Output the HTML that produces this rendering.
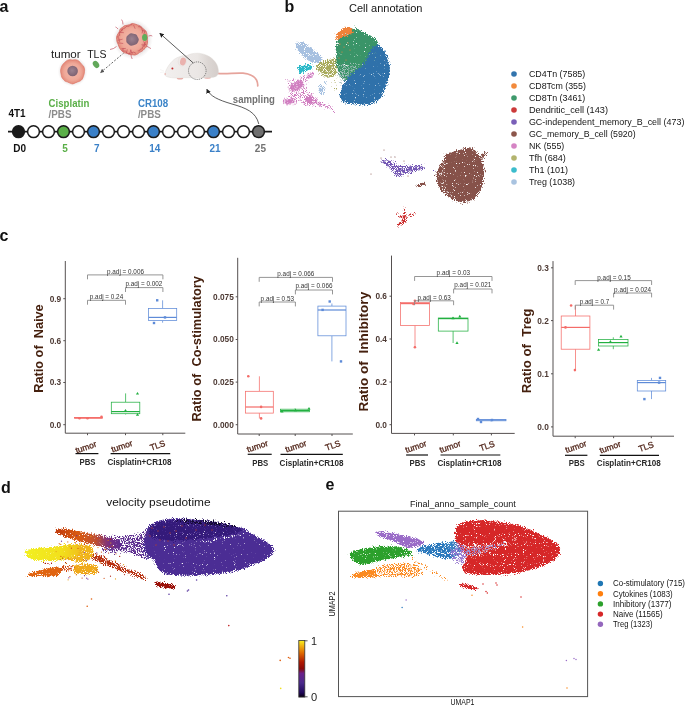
<!DOCTYPE html><html><head><meta charset="utf-8"><style>html,body{margin:0;padding:0;background:#fff;width:685px;height:705px;overflow:hidden}svg{display:block;will-change:transform}text{font-family:"Liberation Sans",sans-serif}</style></head><body>
<svg width="685" height="705" viewBox="0 0 685 705">
<defs>
<filter id="sp" x="-30%" y="-30%" width="160%" height="160%" color-interpolation-filters="sRGB">
 <feGaussianBlur in="SourceGraphic" stdDeviation="1.6" result="b"/>
 <feComponentTransfer in="b" result="bc"><feFuncA type="linear" slope="40" intercept="0"/></feComponentTransfer>
 <feTurbulence type="fractalNoise" baseFrequency="1.1" numOctaves="1" seed="4" result="t"/>
 <feColorMatrix in="t" type="matrix" values="0 0 0 0 0  0 0 0 0 0  0 0 0 0 0  1 0 0 0 0" result="n"/>
 <feGaussianBlur in="SourceAlpha" stdDeviation="1.6" result="ba"/>
 <feComposite in="ba" in2="n" operator="arithmetic" k1="0" k2="1" k3="1.8" k4="-1.4" result="m"/>
 <feComponentTransfer in="m" result="m2"><feFuncA type="linear" slope="6" intercept="0"/></feComponentTransfer>
 <feComposite in="bc" in2="m2" operator="in"/>
</filter>
<filter id="sp2" x="-30%" y="-30%" width="160%" height="160%" color-interpolation-filters="sRGB">
 <feGaussianBlur in="SourceGraphic" stdDeviation="0.8" result="b"/>
 <feComponentTransfer in="b" result="bc"><feFuncA type="linear" slope="40" intercept="0"/></feComponentTransfer>
 <feTurbulence type="fractalNoise" baseFrequency="1.1" numOctaves="1" seed="9" result="t"/>
 <feColorMatrix in="t" type="matrix" values="0 0 0 0 0  0 0 0 0 0  0 0 0 0 0  1 0 0 0 0" result="n"/>
 <feGaussianBlur in="SourceAlpha" stdDeviation="0.8" result="ba"/>
 <feComposite in="ba" in2="n" operator="arithmetic" k1="0" k2="1" k3="1.8" k4="-1.4" result="m"/>
 <feComponentTransfer in="m" result="m2"><feFuncA type="linear" slope="6" intercept="0"/></feComponentTransfer>
 <feComposite in="bc" in2="m2" operator="in"/>
</filter>
<filter id="soft" x="-30%" y="-30%" width="160%" height="160%"><feGaussianBlur stdDeviation="0.8"/></filter>
<radialGradient id="tum" cx="50%" cy="50%" r="50%"><stop offset="0" stop-color="#f4bcae"/><stop offset="0.7" stop-color="#efa898"/><stop offset="1" stop-color="#e48a7a"/></radialGradient>
<radialGradient id="nuc" cx="45%" cy="45%" r="55%"><stop offset="0" stop-color="#9c8290"/><stop offset="1" stop-color="#7e6272"/></radialGradient>
<radialGradient id="halo" cx="50%" cy="50%" r="50%"><stop offset="0.7" stop-color="#d8d0d0" stop-opacity="0.8"/><stop offset="1" stop-color="#e8e4e4" stop-opacity="0"/></radialGradient>
<linearGradient id="cbar" x1="0" y1="1" x2="0" y2="0">
 <stop offset="0" stop-color="#0a0010"/><stop offset="0.08" stop-color="#20085a"/><stop offset="0.25" stop-color="#4a2a8c"/>
 <stop offset="0.42" stop-color="#6a208a"/><stop offset="0.5" stop-color="#8a0808"/><stop offset="0.62" stop-color="#b01800"/>
 <stop offset="0.78" stop-color="#e06a00"/><stop offset="0.9" stop-color="#f0b010"/><stop offset="1" stop-color="#f8f020"/>
</linearGradient>
<marker id="ah" viewBox="0 0 10 10" refX="8" refY="5" markerWidth="6" markerHeight="6" orient="auto-start-reverse"><path d="M0,0 L10,5 L0,10 z" fill="#222"/></marker>
<marker id="ah2" viewBox="0 0 10 10" refX="8" refY="5" markerWidth="4.5" markerHeight="4.5" orient="auto-start-reverse"><path d="M0,0 L10,5 L0,10 z" fill="#555"/></marker>
</defs>
<text x="-0.60" y="12.00" font-size="16" fill="#111" font-weight="bold">a</text>
<circle cx="72.6" cy="71.5" r="15" fill="url(#halo)"/>
<path d="M84.5,71.5 C84.4,72.4 84.3,73.3 84.1,74.1 C83.9,75.0 83.6,75.8 83.3,76.7 C83.0,77.5 82.7,78.4 82.2,79.2 C81.7,79.9 80.9,80.5 80.1,81.0 C79.4,81.4 78.4,81.6 77.6,81.9 C76.8,82.2 76.0,82.6 75.2,82.9 C74.4,83.2 73.5,83.9 72.6,83.9 C71.7,83.9 70.8,83.4 70.0,83.1 C69.1,82.8 68.4,82.3 67.6,82.0 C66.7,81.6 65.7,81.5 65.0,81.1 C64.2,80.6 63.6,79.8 63.1,79.1 C62.5,78.4 61.9,77.6 61.6,76.8 C61.3,76.0 61.3,75.0 61.1,74.1 C61.0,73.2 60.6,72.4 60.6,71.5 C60.5,70.6 60.7,69.7 60.9,68.8 C61.1,67.9 61.3,67.0 61.7,66.2 C62.1,65.4 62.7,64.7 63.2,64.0 C63.8,63.3 64.5,62.7 65.1,62.1 C65.8,61.5 66.4,60.8 67.2,60.4 C68.0,60.0 69.0,59.7 69.9,59.7 C70.8,59.6 71.7,60.0 72.6,60.0 C73.5,60.0 74.4,59.6 75.3,59.7 C76.2,59.8 77.1,60.0 77.9,60.4 C78.7,60.9 79.4,61.5 80.0,62.2 C80.6,62.8 81.0,63.6 81.6,64.3 C82.2,65.0 83.1,65.5 83.6,66.2 C84.0,67.0 84.3,67.9 84.5,68.8 C84.7,69.7 84.6,70.6 84.5,71.5Z" fill="url(#tum)" stroke="#e07868" stroke-width="0.7"/>
<circle cx="72.6" cy="71.0" r="5.3" fill="url(#nuc)"/>
<ellipse cx="96.0" cy="64.4" rx="2.8" ry="3.9" transform="rotate(-35 96 64.4)" fill="#62a85a"/>
<text x="51.00" y="57.60" font-size="11" fill="#222" textLength="29.70" lengthAdjust="spacingAndGlyphs">tumor</text>
<text x="87.20" y="57.60" font-size="11" fill="#222" textLength="19.30" lengthAdjust="spacingAndGlyphs">TLS</text>
<line x1="124" y1="52.8" x2="100.8" y2="72.4" stroke="#555" stroke-width="0.9" stroke-dasharray="2,1.6" marker-end="url(#ah2)"/>
<circle cx="132.8" cy="39.4" r="20" fill="url(#halo)"/>
<path d="M147.4,39.3 C147.4,40.2 147.6,41.1 147.5,42.0 C147.5,42.9 147.4,43.9 147.1,44.7 C146.9,45.6 146.5,46.5 146.0,47.3 C145.5,48.0 144.7,48.6 144.0,49.2 C143.4,49.9 142.8,50.6 142.1,51.1 C141.4,51.6 140.5,51.8 139.7,52.3 C138.9,52.8 138.3,53.5 137.5,54.0 C136.8,54.4 135.9,54.9 135.0,55.0 C134.1,55.1 133.1,54.8 132.2,54.7 C131.3,54.6 130.4,54.7 129.5,54.5 C128.7,54.2 127.9,53.7 127.1,53.4 C126.2,53.1 125.2,53.2 124.4,52.8 C123.6,52.4 122.9,51.8 122.2,51.2 C121.6,50.6 120.9,49.9 120.4,49.2 C119.9,48.5 119.4,47.7 119.1,46.9 C118.7,46.1 118.5,45.2 118.2,44.4 C117.9,43.6 117.3,42.8 117.1,42.0 C116.8,41.1 116.7,40.2 116.7,39.3 C116.6,38.4 116.5,37.4 116.7,36.6 C116.9,35.7 117.4,34.9 117.8,34.1 C118.2,33.3 118.9,32.6 119.3,31.8 C119.6,31.0 119.6,29.9 120.1,29.2 C120.6,28.5 121.6,28.0 122.3,27.5 C123.0,26.9 123.6,26.2 124.4,25.8 C125.2,25.5 126.2,25.5 127.1,25.3 C128.0,25.1 128.8,25.0 129.6,24.7 C130.5,24.4 131.3,23.7 132.2,23.5 C133.1,23.4 134.0,23.8 134.9,24.0 C135.8,24.3 136.6,24.6 137.4,24.9 C138.3,25.2 139.2,25.4 140.0,25.9 C140.7,26.3 141.4,26.9 142.1,27.5 C142.8,28.1 143.2,28.8 143.9,29.5 C144.6,30.1 145.6,30.5 146.1,31.3 C146.6,32.0 146.6,33.1 146.9,34.0 C147.1,34.9 147.2,35.7 147.3,36.6 C147.4,37.5 147.4,38.4 147.4,39.3Z" fill="url(#tum)" stroke="#d46a62" stroke-width="0.8"/>
<path d="M146.3,41.6 L144.5,42.9 L145.1,44.8 L143.9,46.1 L142.4,46.9 L142.3,48.9 L140.3,49.1 L139.6,50.9 L137.7,50.8 M136.1,53.5 L133.9,52.1 L132.2,52.5 L130.3,53.4 L128.2,53.8 L126.7,52.3 L125.3,51.0 L122.8,51.2 L123.1,48.2 M119.5,41.9 L119.3,40.2 L118.8,38.6 L117.7,36.6 L119.7,35.3 L119.4,33.3 L120.1,31.7 L121.7,30.7 L122.6,29.1 M121.8,31.2 L121.9,29.2 L123.6,28.6 L125.0,28.0 L126.1,26.6 L127.7,26.3 L129.3,26.2 L130.7,24.7 L132.4,24.9 M138.1,26.6 L140.3,26.8 L141.7,28.4 L142.3,30.6 L145.0,31.1 L143.9,33.9 L145.3,35.4 L146.6,37.2 L145.2,39.2 M117.7,40.3 L122.6,39.2 M133.5,24.9 L135.2,28.8 M126.5,52.7 L127.3,49.4 M119.5,32.3 L123.9,32.7 M145.8,34.4 L142.5,36.5 M145.7,44.7 L142.3,44.2 M146.7,38.7 L143.6,37.6 M121.3,48.8 L125.8,48.4 M118.1,42.8 L123.2,43.5 M145.7,44.5 L143.4,41.4 M132.4,53.8 L130.4,49.6 M144.9,46.3 L141.4,44.7 M143.0,29.6 L142.0,33.3 M129.6,53.6 L131.1,49.8 " stroke="#b8384a" stroke-width="0.55" fill="none" stroke-linejoin="round" stroke-opacity="0.9"/>
<path d="M123,24.5 L122.6,21.5 L121.6,19.6" stroke="#b8384a" stroke-width="0.6" fill="none"/>
<path d="M110,49.5 L113.5,48.5 L116.5,46.5" stroke="#b8384a" stroke-width="0.6" fill="none"/>
<path d="M148.5,36 L151,35.5 L152.3,36.1" stroke="#b8384a" stroke-width="0.6" fill="none"/>
<path d="M146.5,46 L149,47.5 L151,48.6" stroke="#b8384a" stroke-width="0.6" fill="none"/>
<path d="M131,54.5 L131.3,56.5 L132.2,59" stroke="#b8384a" stroke-width="0.6" fill="none"/>
<path d="M118,29 L116.5,27.5 L115.5,27" stroke="#b8384a" stroke-width="0.6" fill="none"/>
<path d="M138.8,39.5 C138.8,40.4 138.3,41.4 137.9,42.2 C137.5,43.0 136.9,43.8 136.2,44.3 C135.4,44.8 134.5,45.0 133.6,45.3 C132.7,45.5 131.7,46.0 130.9,45.8 C130.0,45.6 129.2,44.9 128.5,44.3 C127.7,43.7 126.9,43.1 126.5,42.3 C126.2,41.5 126.3,40.4 126.3,39.5 C126.3,38.6 126.2,37.5 126.6,36.7 C126.9,35.9 127.8,35.3 128.5,34.7 C129.2,34.2 130.0,33.5 130.9,33.3 C131.7,33.1 132.7,33.5 133.6,33.7 C134.5,33.9 135.6,34.0 136.2,34.6 C136.9,35.1 137.3,36.1 137.7,36.9 C138.2,37.7 138.8,38.6 138.8,39.5Z" fill="url(#nuc)"/>
<ellipse cx="144.7" cy="37.6" rx="2.6" ry="3.5" fill="#5fae5a"/>
<linearGradient id="mbody" x1="165" y1="0" x2="219" y2="0" gradientUnits="userSpaceOnUse"><stop offset="0" stop-color="#f2efee"/><stop offset="0.6" stop-color="#ebe7e5"/><stop offset="0.8" stop-color="#dcd6d3"/><stop offset="1" stop-color="#d4cdca"/></linearGradient>
<path d="M217.4,73.3 C225,74.6 236,72.4 243,73.2 C250,74 255,77 256.6,80.2 C257.6,82.6 257.9,84.5 257.7,85.8" stroke="#e6a49c" stroke-width="1.7" fill="none" stroke-linecap="round"/>
<ellipse cx="180" cy="78.3" rx="3.2" ry="1.2" fill="#eaa8a2"/>
<ellipse cx="207.5" cy="77.6" rx="3.5" ry="1.2" fill="#eaa8a2"/>
<path d="M164.9,74.2 C165.5,70 169,64 174,59.5 C178,56.5 183,55.5 187,55.5 C193,52.5 201,52.3 207.8,55.8 C213,58.5 217,63 218,68 C219,72 218.5,75 216,76.5 C212,78 206,78 202,77.7 L185,77.7 C178,78.5 172,78 168,77 C166,76.5 164.6,75.5 164.9,74.2 Z" fill="url(#mbody)" stroke="#dcd6d2" stroke-width="0.4"/>
<ellipse cx="182.4" cy="61" rx="4.2" ry="5.2" transform="rotate(15 182.4 61)" fill="#eeeae8" stroke="#ddd6d4" stroke-width="0.3"/>
<ellipse cx="183" cy="61.5" rx="2.9" ry="3.9" transform="rotate(15 183 61.5)" fill="#eab2ae"/>
<circle cx="172.4" cy="68.4" r="1" fill="#c42a2a"/>
<circle cx="165.2" cy="74" r="0.8" fill="#e8a8a2"/>
<path d="M164,71 l-4,-1.5 M164,72 l-4,0.5" stroke="#e4e0de" stroke-width="0.3"/>
<circle cx="197.3" cy="70.7" r="8.8" fill="#ece8e6" fill-opacity="0.5" stroke="#555" stroke-width="0.7" stroke-dasharray="1.3,0.9"/>
<line x1="193.3" y1="63" x2="160" y2="33.5" stroke="#333" stroke-width="0.8" marker-end="url(#ah)"/>
<path d="M258.8,124 C256,112 246,108 232,104 C218,100 210,96 207,89.5" stroke="#333" stroke-width="0.8" fill="none" marker-end="url(#ah)"/>
<text x="232.80" y="103.20" font-size="10" fill="#737373" font-weight="600" textLength="42.10" lengthAdjust="spacingAndGlyphs">sampling</text>
<text x="48.60" y="107.10" font-size="10" fill="#5aaf48" font-weight="bold" textLength="40.70" lengthAdjust="spacingAndGlyphs">Cisplatin</text>
<text x="48.60" y="117.60" font-size="10" fill="#8c8c8c" font-weight="bold" textLength="22.90" lengthAdjust="spacingAndGlyphs">/PBS</text>
<text x="137.90" y="107.10" font-size="10" fill="#3b84c8" font-weight="bold" textLength="30.30" lengthAdjust="spacingAndGlyphs">CR108</text>
<text x="137.90" y="117.60" font-size="10" fill="#8c8c8c" font-weight="bold" textLength="22.90" lengthAdjust="spacingAndGlyphs">/PBS</text>
<text x="8.40" y="117.00" font-size="10" fill="#111" font-weight="bold" textLength="17.10" lengthAdjust="spacingAndGlyphs">4T1</text>
<line x1="8" y1="131.7" x2="272" y2="131.7" stroke="#1a1a1a" stroke-width="1.8"/>
<circle cx="18.5" cy="131.7" r="5.9" fill="#1a1a1a" stroke="#1a1a1a" stroke-width="1.5"/>
<circle cx="33.5" cy="131.7" r="5.9" fill="#fff" stroke="#1a1a1a" stroke-width="1.5"/>
<circle cx="48.5" cy="131.7" r="5.9" fill="#fff" stroke="#1a1a1a" stroke-width="1.5"/>
<circle cx="63.5" cy="131.7" r="5.9" fill="#5aaf48" stroke="#1a1a1a" stroke-width="1.5"/>
<circle cx="78.5" cy="131.7" r="5.9" fill="#fff" stroke="#1a1a1a" stroke-width="1.5"/>
<circle cx="93.5" cy="131.7" r="5.9" fill="#3a80c8" stroke="#1a1a1a" stroke-width="1.5"/>
<circle cx="108.5" cy="131.7" r="5.9" fill="#fff" stroke="#1a1a1a" stroke-width="1.5"/>
<circle cx="123.5" cy="131.7" r="5.9" fill="#fff" stroke="#1a1a1a" stroke-width="1.5"/>
<circle cx="138.5" cy="131.7" r="5.9" fill="#fff" stroke="#1a1a1a" stroke-width="1.5"/>
<circle cx="153.5" cy="131.7" r="5.9" fill="#3a80c8" stroke="#1a1a1a" stroke-width="1.5"/>
<circle cx="168.5" cy="131.7" r="5.9" fill="#fff" stroke="#1a1a1a" stroke-width="1.5"/>
<circle cx="183.5" cy="131.7" r="5.9" fill="#fff" stroke="#1a1a1a" stroke-width="1.5"/>
<circle cx="198.5" cy="131.7" r="5.9" fill="#fff" stroke="#1a1a1a" stroke-width="1.5"/>
<circle cx="213.5" cy="131.7" r="5.9" fill="#3a80c8" stroke="#1a1a1a" stroke-width="1.5"/>
<circle cx="228.5" cy="131.7" r="5.9" fill="#fff" stroke="#1a1a1a" stroke-width="1.5"/>
<circle cx="243.5" cy="131.7" r="5.9" fill="#fff" stroke="#1a1a1a" stroke-width="1.5"/>
<circle cx="258.5" cy="131.7" r="5.9" fill="#707070" stroke="#1a1a1a" stroke-width="1.5"/>
<text x="19.70" y="151.80" font-size="10" fill="#111" font-weight="bold" text-anchor="middle">D0</text>
<text x="65.00" y="151.80" font-size="10" fill="#5aaf48" font-weight="bold" text-anchor="middle">5</text>
<text x="96.80" y="151.80" font-size="10" fill="#3a80c8" font-weight="bold" text-anchor="middle">7</text>
<text x="154.70" y="151.80" font-size="10" fill="#3a80c8" font-weight="bold" text-anchor="middle">14</text>
<text x="215.00" y="151.80" font-size="10" fill="#3a80c8" font-weight="bold" text-anchor="middle">21</text>
<text x="260.40" y="151.80" font-size="10" fill="#737373" font-weight="bold" text-anchor="middle">25</text>
<text x="284.50" y="12.00" font-size="16" fill="#111" font-weight="bold">b</text>
<text x="349.00" y="11.90" font-size="11.0" fill="#151515" textLength="73.50" lengthAdjust="spacingAndGlyphs">Cell annotation</text>
<path d="M285.7,77.0 C286.9,76.2 291.3,78.7 294.7,78.1 C298.1,77.5 303.1,74.5 306.1,73.6 C309.1,72.6 311.6,72.0 312.9,72.4 C314.2,72.8 314.8,74.1 314.0,75.8 C313.2,77.5 309.5,80.3 308.4,82.6 C307.3,84.9 306.3,87.6 307.2,89.5 C308.1,91.4 312.1,92.5 314.0,94.0 C315.9,95.5 316.3,97.0 318.6,98.5 C320.9,100.0 325.0,101.4 327.6,103.1 C330.2,104.8 333.1,107.1 334.5,108.7 C335.9,110.3 336.8,112.1 336.2,112.7 C335.6,113.3 333.2,112.9 331.0,112.1 C328.8,111.2 325.9,108.5 323.1,107.6 C320.3,106.7 316.6,106.5 314.0,106.5 C311.4,106.5 309.1,107.8 307.2,107.6 C305.3,107.4 304.6,105.9 302.7,105.3 C300.8,104.7 298.5,104.4 295.9,104.2 C293.2,104.0 289.0,104.4 286.8,104.2 C284.6,104.0 283.2,104.0 282.8,103.1 C282.4,102.1 283.4,100.0 284.5,98.5 C285.6,97.0 288.5,95.7 289.1,94.0 C289.7,92.3 288.2,90.2 287.9,88.3 C287.6,86.4 287.8,84.5 287.4,82.6 C287.0,80.7 284.5,77.8 285.7,77.0Z" fill="#d07cc0" fill-opacity="0.5" filter="url(#sp)"/>
<ellipse cx="296.5" cy="86" rx="9" ry="5" transform="rotate(-25 296.5 86)" fill="#d07cc0" fill-opacity="0.85" filter="url(#sp)"/>
<ellipse cx="289.5" cy="101.5" rx="6.5" ry="3.5" transform="rotate(-10 289.5 101.5)" fill="#d07cc0" fill-opacity="0.85" filter="url(#sp)"/>
<ellipse cx="309.5" cy="99.5" rx="5.5" ry="6" transform="rotate(0 309.5 99.5)" fill="#d07cc0" fill-opacity="0.85" filter="url(#sp)"/>
<ellipse cx="310" cy="75.5" rx="4.5" ry="3" transform="rotate(-20 310 75.5)" fill="#d07cc0" fill-opacity="0.8" filter="url(#sp)"/>
<ellipse cx="299" cy="96" rx="4.5" ry="3.5" transform="rotate(0 299 96)" fill="#d07cc0" fill-opacity="0.6" filter="url(#sp)"/>
<ellipse cx="318" cy="103" rx="4.5" ry="3" transform="rotate(30 318 103)" fill="#d07cc0" fill-opacity="0.65" filter="url(#sp)"/>
<ellipse cx="291" cy="91" rx="3" ry="3" transform="rotate(0 291 91)" fill="#d07cc0" fill-opacity="0.6" filter="url(#sp)"/>
<path d="M295.6,42.6 C296.4,41.5 299.2,41.0 301.0,41.3 C302.8,41.6 304.5,43.3 306.6,44.6 C308.7,45.9 311.3,47.7 313.4,49.2 C315.5,50.7 317.5,52.3 319.0,53.8 C320.5,55.3 322.4,56.5 322.6,58.0 C322.8,59.5 321.6,61.7 320.2,62.6 C318.8,63.5 316.0,63.6 314.0,63.3 C312.0,63.0 310.1,62.0 308.4,61.0 C306.7,60.0 305.2,58.4 303.6,57.0 C302.0,55.6 300.3,53.9 299.0,52.4 C297.7,50.9 296.6,49.6 296.0,48.0 C295.4,46.4 294.8,43.7 295.6,42.6Z" fill="#a6c0e0" fill-opacity="0.9" filter="url(#sp)"/>
<ellipse cx="321.5" cy="89.5" rx="3.8" ry="6.5" fill="#a6c0e0" fill-opacity="0.75" filter="url(#sp)"/>
<ellipse cx="325" cy="83" rx="2.5" ry="5" fill="#a6c0e0" fill-opacity="0.45" filter="url(#sp)"/>
<path d="M298.2,65.6 C299.4,64.8 302.9,64.8 305.0,64.5 C307.1,64.2 309.1,63.7 310.6,63.9 C312.1,64.1 313.6,64.8 314.0,65.6 C314.4,66.4 314.0,68.0 312.9,69.0 C311.8,70.0 309.1,70.5 307.2,71.3 C305.3,72.1 303.1,73.2 301.6,73.6 C300.1,74.0 298.9,74.4 298.2,73.6 C297.5,72.8 297.6,70.3 297.6,69.0 C297.6,67.7 297.0,66.3 298.2,65.6Z" fill="#2ab8c8" fill-opacity="0.85" filter="url(#sp)"/>
<path d="M316.3,64.5 C317.2,63.3 318.9,62.1 320.8,61.1 C322.7,60.1 325.3,59.4 327.6,58.8 C329.9,58.2 332.6,57.7 334.5,57.7 C336.4,57.7 338.1,57.7 339.0,58.8 C339.9,59.9 340.1,62.4 340.1,64.5 C340.1,66.6 339.8,69.4 339.0,71.3 C338.2,73.2 337.1,74.7 335.6,75.8 C334.1,76.9 332.0,77.9 329.9,78.1 C327.8,78.3 325.0,78.0 323.1,77.0 C321.2,76.0 319.8,73.8 318.6,72.4 C317.4,71.0 316.1,69.8 315.7,68.5 C315.3,67.2 315.4,65.7 316.3,64.5Z" fill="#a8aa5c" fill-opacity="0.72" filter="url(#sp)"/>
<path d="M330,78 L339,76 L340,90 L335,93 L330,86 Z" fill="#a8aa5c" fill-opacity="0.35" filter="url(#sp)"/>
<path d="M337.7,39.2 C338.9,36.4 340.5,33.3 342.8,31.5 C345.1,29.7 349.1,28.7 351.7,28.3 C354.2,27.9 355.8,28.1 358.1,28.9 C360.5,29.6 363.5,31.5 365.8,32.8 C368.1,34.1 370.3,35.3 372.2,36.6 C374.1,37.9 376.3,39.2 377.3,40.4 C378.3,41.6 377.8,42.4 378.2,44.0 C378.6,45.6 380.0,47.3 380.0,50.0 C380.0,52.7 379.7,56.7 378.0,60.0 C376.3,63.3 373.3,67.0 370.0,70.0 C366.7,73.0 361.7,76.0 358.0,78.0 C354.3,80.0 351.0,82.0 348.0,82.0 C345.0,82.0 342.0,80.2 340.2,78.0 C338.4,75.8 337.8,71.8 337.0,68.5 C336.2,65.2 335.9,61.7 335.7,58.3 C335.5,54.9 335.4,51.3 335.7,48.1 C336.0,44.9 336.5,42.0 337.7,39.2Z" fill="#3a9468" fill-opacity="1" filter="url(#sp)"/>
<path d="M335.7,39.2 C335.7,37.9 336.5,34.6 337.7,32.8 C338.9,31.0 341.1,29.4 342.8,28.3 C344.5,27.2 346.3,26.3 347.9,26.4 C349.5,26.5 351.5,27.9 352.4,28.9 C353.2,29.8 353.5,31.0 353.0,32.1 C352.5,33.2 350.9,34.4 349.2,35.3 C347.5,36.1 344.7,36.4 342.8,37.2 C340.9,38.1 338.9,40.1 337.7,40.4 C336.5,40.7 335.7,40.5 335.7,39.2Z" fill="#f0823a" fill-opacity="1" filter="url(#sp)"/>
<circle cx="340" cy="44" r="0.6" fill="#f0823a"/>
<circle cx="344" cy="47" r="0.6" fill="#f0823a"/>
<circle cx="348" cy="43" r="0.6" fill="#f0823a"/>
<circle cx="342" cy="52" r="0.6" fill="#f0823a"/>
<circle cx="350" cy="50" r="0.6" fill="#f0823a"/>
<circle cx="339" cy="58" r="0.6" fill="#f0823a"/>
<circle cx="346" cy="60" r="0.6" fill="#f0823a"/>
<path d="M337,66 C342,62 352,62 360,66 C356,74 350,82 344,88 C339,86 336,78 337,66 Z" fill="#a8c0c0" fill-opacity="0.5" filter="url(#sp)"/>
<path d="M372.2,46.8 C373.9,45.2 376.6,44.5 378.5,44.9 C380.4,45.3 382.1,47.6 383.6,49.4 C385.1,51.2 386.5,53.5 387.5,55.8 C388.5,58.1 389.0,60.9 389.4,63.4 C389.8,66.0 390.1,68.5 390.0,71.1 C389.9,73.7 389.4,76.2 388.8,78.8 C388.2,81.3 387.1,83.9 386.2,86.4 C385.3,89.0 384.9,91.8 383.6,94.1 C382.3,96.4 380.6,98.8 378.5,100.5 C376.4,102.2 373.7,103.6 370.9,104.3 C368.1,105.0 364.9,104.9 361.9,104.9 C358.9,104.9 356.0,104.6 353.0,104.3 C350.0,104.0 346.2,103.8 344.1,103.0 C342.0,102.2 340.9,100.7 340.2,99.2 C339.4,97.7 339.5,95.8 339.6,94.1 C339.7,92.4 340.4,90.7 340.9,89.0 C341.4,87.3 341.9,85.6 342.8,83.9 C343.8,82.2 345.1,80.5 346.6,78.8 C348.1,77.1 349.8,75.3 351.7,73.6 C353.6,71.9 356.0,70.4 358.1,68.5 C360.2,66.6 362.8,64.5 364.5,62.2 C366.2,59.9 367.0,57.1 368.3,54.5 C369.6,51.9 370.5,48.4 372.2,46.8Z" fill="#2f71aa" fill-opacity="1" filter="url(#sp)"/>
<path d="M445.4,154.3 C447.2,152.8 451.0,152.1 453.6,151.2 C456.2,150.3 458.2,149.7 460.8,149.0 C463.4,148.3 466.7,147.2 468.9,147.2 C471.1,147.2 472.3,147.7 474.0,149.0 C475.7,150.3 477.7,152.9 479.2,155.1 C480.7,157.3 482.2,159.8 483.2,162.4 C484.1,165.0 484.8,168.0 484.9,170.7 C485.0,173.4 484.3,176.1 483.9,178.8 C483.5,181.5 483.3,184.2 482.3,187.0 C481.3,189.8 479.8,193.1 478.1,195.3 C476.4,197.6 474.4,199.2 472.0,200.5 C469.6,201.8 466.5,202.8 463.8,203.0 C461.1,203.2 458.2,202.4 455.7,201.5 C453.1,200.6 450.9,199.0 448.5,197.3 C446.1,195.6 443.4,193.6 441.4,191.2 C439.4,188.8 437.5,185.7 436.6,182.9 C435.7,180.2 435.6,177.4 436.0,174.7 C436.4,172.0 438.0,169.0 439.1,166.6 C440.2,164.2 441.6,162.2 442.7,160.2 C443.8,158.1 443.6,155.8 445.4,154.3Z" fill="#87524a" fill-opacity="0.93" filter="url(#sp)"/>
<path d="M437,176 C438,168 442,162 447,160 C446,172 448,185 455,198 C448,196 441,190 437,182 Z" fill="#ffffff" fill-opacity="0.3" filter="url(#sp2)"/>
<path d="M478,157 L485,151 L489,150.5 L488,154 L482,160 Z" fill="#87524a" fill-opacity="0.8" filter="url(#sp)"/>
<path d="M379.0,159.5 C379.8,158.8 383.7,158.6 386.0,158.8 C388.3,159.1 391.2,160.1 393.0,161.0 C394.8,161.9 395.0,163.8 397.0,164.5 C399.0,165.2 402.0,165.1 405.0,165.2 C408.0,165.2 411.8,164.8 415.0,164.8 C418.2,164.9 422.0,164.9 424.0,165.5 C426.0,166.1 427.5,167.6 427.0,168.5 C426.5,169.4 423.3,170.2 421.0,171.0 C418.7,171.8 415.7,172.4 413.0,173.0 C410.3,173.6 407.2,173.8 405.0,174.5 C402.8,175.2 401.7,177.2 400.0,177.5 C398.3,177.8 396.5,177.1 395.0,176.0 C393.5,174.9 392.5,172.7 391.0,171.0 C389.5,169.3 387.7,167.3 386.0,166.0 C384.3,164.7 382.2,164.1 381.0,163.0 C379.8,161.9 378.2,160.2 379.0,159.5Z" fill="#7458b4" fill-opacity="0.72" filter="url(#sp)"/>
<path d="M380,158 L392,157 L398,162 L390,166 L382,164 Z" fill="#7458b4" fill-opacity="0.35" filter="url(#sp)"/>
<path d="M425,166 L437,169 L436,172 L425,171 Z" fill="#7458b4" fill-opacity="0.4" filter="url(#sp)"/>
<path d="M415,186 L423,181.5 L428,182 L426,185.5 L418,187.5 Z" fill="#87524a" fill-opacity="0.85" filter="url(#sp2)"/>
<circle cx="384" cy="150" r="0.55" fill="#87524a"/>
<circle cx="391" cy="157" r="0.55" fill="#87524a"/>
<circle cx="395" cy="157" r="0.55" fill="#87524a"/>
<circle cx="404" cy="161" r="0.55" fill="#87524a"/>
<circle cx="371" cy="174" r="0.55" fill="#87524a"/>
<circle cx="381" cy="158" r="0.55" fill="#87524a"/>
<circle cx="408" cy="176" r="0.55" fill="#87524a"/>
<path d="M404.5,209 L404,216 L403,224 M397,214 L401,217 L405,218 L410,215 L415,213.8 M399,224 L403,221 L408,222 M398,227 L400,224" stroke="#cc3030" stroke-width="2.6" fill="none" stroke-linecap="round" stroke-opacity="0.8" filter="url(#sp2)"/>
<circle cx="514" cy="74.0" r="2.8" fill="#3274ad"/>
<text x="528.90" y="77.30" font-size="9.3" fill="#151515" textLength="56.40" lengthAdjust="spacingAndGlyphs">CD4Tn (7585)</text>
<circle cx="514" cy="86.0" r="2.8" fill="#f28a3c"/>
<text x="528.90" y="89.30" font-size="9.3" fill="#151515" textLength="57.00" lengthAdjust="spacingAndGlyphs">CD8Tcm (355)</text>
<circle cx="514" cy="98.0" r="2.8" fill="#3f9a6c"/>
<text x="528.90" y="101.30" font-size="9.3" fill="#151515" textLength="56.40" lengthAdjust="spacingAndGlyphs">CD8Tn (3461)</text>
<circle cx="514" cy="110.0" r="2.8" fill="#cc3a3a"/>
<text x="528.90" y="113.30" font-size="9.3" fill="#151515" textLength="79.10" lengthAdjust="spacingAndGlyphs">Dendritic_cell (143)</text>
<circle cx="514" cy="122.0" r="2.8" fill="#7a5fb8"/>
<text x="528.90" y="125.30" font-size="9.3" fill="#151515" textLength="155.50" lengthAdjust="spacingAndGlyphs">GC-independent_memory_B_cell (473)</text>
<circle cx="514" cy="134.0" r="2.8" fill="#8c564b"/>
<text x="528.90" y="137.30" font-size="9.3" fill="#151515" textLength="106.70" lengthAdjust="spacingAndGlyphs">GC_memory_B_cell (5920)</text>
<circle cx="514" cy="146.0" r="2.8" fill="#d584c4"/>
<text x="528.90" y="149.30" font-size="9.3" fill="#151515" textLength="35.40" lengthAdjust="spacingAndGlyphs">NK (555)</text>
<circle cx="514" cy="158.0" r="2.8" fill="#b3b46e"/>
<text x="528.90" y="161.30" font-size="9.3" fill="#151515" textLength="37.00" lengthAdjust="spacingAndGlyphs">Tfh (684)</text>
<circle cx="514" cy="170.0" r="2.8" fill="#3bbccc"/>
<text x="528.90" y="173.30" font-size="9.3" fill="#151515" textLength="39.20" lengthAdjust="spacingAndGlyphs">Th1 (101)</text>
<circle cx="514" cy="182.0" r="2.8" fill="#a9c3e0"/>
<text x="528.90" y="185.30" font-size="9.3" fill="#151515" textLength="46.20" lengthAdjust="spacingAndGlyphs">Treg (1038)</text>
<text x="-0.50" y="241.10" font-size="16" fill="#111" font-weight="bold">c</text>
<path d="M65.3,261 V433.2 H185.3" stroke="#555050" stroke-width="1" fill="none"/>
<line x1="63.3" y1="298.7" x2="65.3" y2="298.7" stroke="#555050" stroke-width="1"/>
<text x="61.20" y="301.60" font-size="8.3" fill="#4d3a34" font-weight="bold" text-anchor="end">0.9</text>
<line x1="63.3" y1="340.7" x2="65.3" y2="340.7" stroke="#555050" stroke-width="1"/>
<text x="61.20" y="343.60" font-size="8.3" fill="#4d3a34" font-weight="bold" text-anchor="end">0.6</text>
<line x1="63.3" y1="382.5" x2="65.3" y2="382.5" stroke="#555050" stroke-width="1"/>
<text x="61.20" y="385.40" font-size="8.3" fill="#4d3a34" font-weight="bold" text-anchor="end">0.3</text>
<line x1="63.3" y1="424.7" x2="65.3" y2="424.7" stroke="#555050" stroke-width="1"/>
<text x="61.20" y="427.60" font-size="8.3" fill="#4d3a34" font-weight="bold" text-anchor="end">0.0</text>
<line x1="87.5" y1="433.2" x2="87.5" y2="435.2" stroke="#555050" stroke-width="1"/>
<line x1="125.5" y1="433.2" x2="125.5" y2="435.2" stroke="#555050" stroke-width="1"/>
<line x1="162.8" y1="433.2" x2="162.8" y2="435.2" stroke="#555050" stroke-width="1"/>
<text x="42.60" y="348.55" font-size="13.2" font-weight="bold" fill="#45200e" text-anchor="middle" textLength="88.5" lengthAdjust="spacingAndGlyphs" transform="rotate(-90 42.60 348.55)">Ratio of&#160; Naive</text>
<line x1="88.5" y1="417.2" x2="88.5" y2="417.4" stroke="#F46C68" stroke-width="0.75"/>
<line x1="88.5" y1="418.2" x2="88.5" y2="418.4" stroke="#F46C68" stroke-width="0.75"/>
<rect x="74.6" y="417.4" width="27.8" height="0.8" fill="#fff" stroke="#F46C68" stroke-width="0.75"/>
<line x1="74.6" y1="417.9" x2="102.4" y2="417.9" stroke="#F46C68" stroke-width="1.2"/>
<circle cx="79.5" cy="418.2" r="1.3" fill="#F46C68"/>
<circle cx="87.5" cy="418.3" r="1.3" fill="#F46C68"/>
<circle cx="101.5" cy="416.8" r="1.3" fill="#F46C68"/>
<line x1="125.6" y1="393.4" x2="125.6" y2="402.2" stroke="#22B040" stroke-width="0.75"/>
<line x1="125.6" y1="413.7" x2="125.6" y2="414.5" stroke="#22B040" stroke-width="0.75"/>
<rect x="111.3" y="402.2" width="28.5" height="11.5" fill="#fff" stroke="#22B040" stroke-width="0.75"/>
<line x1="111.3" y1="411.6" x2="139.8" y2="411.6" stroke="#22B040" stroke-width="1.2"/>
<path d="M137.5,391.90000000000003 L139.1,394.6 L135.9,394.6 Z" fill="#22B040"/>
<path d="M125.5,408.90000000000003 L127.1,411.6 L123.9,411.6 Z" fill="#22B040"/>
<path d="M137.5,413.1 L139.1,415.8 L135.9,415.8 Z" fill="#22B040"/>
<line x1="162.6" y1="300.3" x2="162.6" y2="308.5" stroke="#5E8BD8" stroke-width="0.75"/>
<line x1="162.6" y1="320.6" x2="162.6" y2="322.7" stroke="#5E8BD8" stroke-width="0.75"/>
<rect x="148.6" y="308.5" width="28.1" height="12.1" fill="#fff" stroke="#5E8BD8" stroke-width="0.75"/>
<line x1="148.6" y1="317.4" x2="176.7" y2="317.4" stroke="#5E8BD8" stroke-width="1.2"/>
<rect x="156.0" y="299.1" width="2.4" height="2.4" fill="#5E8BD8"/>
<rect x="163.8" y="316.2" width="2.4" height="2.4" fill="#5E8BD8"/>
<rect x="152.8" y="321.8" width="2.4" height="2.4" fill="#5E8BD8"/>
<path d="M87.5,279.29999999999995 V274.9 H162.9 V279.29999999999995" stroke="#8a8a8a" stroke-width="0.9" fill="none"/>
<text x="125.50" y="273.50" font-size="6.3" fill="#333" text-anchor="middle" textLength="37.00" lengthAdjust="spacingAndGlyphs">p.adj = 0.006</text>
<path d="M125.5,292.0 V287.6 H162.9 V292.0" stroke="#8a8a8a" stroke-width="0.9" fill="none"/>
<text x="143.90" y="286.40" font-size="6.3" fill="#333" text-anchor="middle" textLength="37.00" lengthAdjust="spacingAndGlyphs">p.adj = 0.002</text>
<path d="M87.5,304.7 V300.3 H125.5 V304.7" stroke="#8a8a8a" stroke-width="0.9" fill="none"/>
<text x="106.50" y="298.70" font-size="6.3" fill="#333" text-anchor="middle" textLength="33.40" lengthAdjust="spacingAndGlyphs">p.adj = 0.24</text>
<text x="86.1" y="450.1" font-size="8.6" fill="#52261a" stroke="#52261a" stroke-width="0.3" text-anchor="middle" textLength="21.8" lengthAdjust="spacingAndGlyphs" transform="rotate(-19 86.1 447.5)">tumor</text>
<text x="122.0" y="449.2" font-size="8.6" fill="#52261a" stroke="#52261a" stroke-width="0.3" text-anchor="middle" textLength="21.8" lengthAdjust="spacingAndGlyphs" transform="rotate(-19 122.0 446.6)">tumor</text>
<text x="157.6" y="448.4" font-size="8.6" fill="#52261a" stroke="#52261a" stroke-width="0.3" text-anchor="middle" textLength="15.5" lengthAdjust="spacingAndGlyphs" transform="rotate(-19 157.6 445.4)">TLS</text>
<line x1="75.5" y1="453.6" x2="98.4" y2="453.6" stroke="#111" stroke-width="1.2"/>
<line x1="110.6" y1="453.6" x2="170.2" y2="453.6" stroke="#111" stroke-width="1.2"/>
<text x="87.45" y="464.60" font-size="8.3" fill="#2a2a2a" font-weight="bold" text-anchor="middle" textLength="16.00" lengthAdjust="spacingAndGlyphs">PBS</text>
<text x="139.50" y="464.60" font-size="8.3" fill="#2a2a2a" font-weight="bold" text-anchor="middle" textLength="64.00" lengthAdjust="spacingAndGlyphs">Cisplatin+CR108</text>
<path d="M237.7,257.8 V434.0 H352.8" stroke="#555050" stroke-width="1" fill="none"/>
<line x1="235.7" y1="296.8" x2="237.7" y2="296.8" stroke="#555050" stroke-width="1"/>
<text x="233.80" y="299.70" font-size="8.3" fill="#4d3a34" font-weight="bold" text-anchor="end">0.075</text>
<line x1="235.7" y1="339.5" x2="237.7" y2="339.5" stroke="#555050" stroke-width="1"/>
<text x="233.80" y="342.40" font-size="8.3" fill="#4d3a34" font-weight="bold" text-anchor="end">0.050</text>
<line x1="235.7" y1="382.1" x2="237.7" y2="382.1" stroke="#555050" stroke-width="1"/>
<text x="233.80" y="385.00" font-size="8.3" fill="#4d3a34" font-weight="bold" text-anchor="end">0.025</text>
<line x1="235.7" y1="424.7" x2="237.7" y2="424.7" stroke="#555050" stroke-width="1"/>
<text x="233.80" y="427.60" font-size="8.3" fill="#4d3a34" font-weight="bold" text-anchor="end">0.000</text>
<line x1="259.2" y1="434.0" x2="259.2" y2="436.0" stroke="#555050" stroke-width="1"/>
<line x1="295.2" y1="434.0" x2="295.2" y2="436.0" stroke="#555050" stroke-width="1"/>
<line x1="332.0" y1="434.0" x2="332.0" y2="436.0" stroke="#555050" stroke-width="1"/>
<text x="201.00" y="348.75" font-size="13.2" font-weight="bold" fill="#45200e" text-anchor="middle" textLength="145.5" lengthAdjust="spacingAndGlyphs" transform="rotate(-90 201.00 348.75)">Ratio of&#160; Co-stimulatory</text>
<line x1="259.4" y1="376.3" x2="259.4" y2="391.3" stroke="#F46C68" stroke-width="0.75"/>
<line x1="259.4" y1="413.1" x2="259.4" y2="418.4" stroke="#F46C68" stroke-width="0.75"/>
<rect x="245.5" y="391.3" width="27.8" height="21.8" fill="#fff" stroke="#F46C68" stroke-width="0.75"/>
<line x1="245.5" y1="407.0" x2="273.3" y2="407.0" stroke="#F46C68" stroke-width="1.2"/>
<circle cx="248.3" cy="376.3" r="1.3" fill="#F46C68"/>
<circle cx="261.1" cy="406.9" r="1.3" fill="#F46C68"/>
<circle cx="261.1" cy="418.4" r="1.3" fill="#F46C68"/>
<line x1="295.0" y1="408.5" x2="295.0" y2="409.2" stroke="#22B040" stroke-width="0.75"/>
<line x1="295.0" y1="411.8" x2="295.0" y2="412.0" stroke="#22B040" stroke-width="0.75"/>
<rect x="280.5" y="409.2" width="29.0" height="2.6" fill="#fff" stroke="#22B040" stroke-width="0.75"/>
<line x1="280.5" y1="410.6" x2="309.5" y2="410.6" stroke="#22B040" stroke-width="1.2"/>
<path d="M282,409.8 L283.6,412.5 L280.4,412.5 Z" fill="#22B040"/>
<path d="M295.5,408.6 L297.1,411.3 L293.9,411.3 Z" fill="#22B040"/>
<path d="M309,406.90000000000003 L310.6,409.6 L307.4,409.6 Z" fill="#22B040"/>
<line x1="331.9" y1="303.5" x2="331.9" y2="306.1" stroke="#5E8BD8" stroke-width="0.75"/>
<line x1="331.9" y1="335.8" x2="331.9" y2="361.4" stroke="#5E8BD8" stroke-width="0.75"/>
<rect x="317.9" y="306.1" width="28.1" height="29.7" fill="#fff" stroke="#5E8BD8" stroke-width="0.75"/>
<line x1="317.9" y1="310.0" x2="346.0" y2="310.0" stroke="#5E8BD8" stroke-width="1.2"/>
<rect x="328.5" y="300.3" width="2.4" height="2.4" fill="#5E8BD8"/>
<rect x="321.40000000000003" y="308.7" width="2.4" height="2.4" fill="#5E8BD8"/>
<rect x="339.8" y="360.2" width="2.4" height="2.4" fill="#5E8BD8"/>
<path d="M259.2,281.79999999999995 V277.4 H332.5 V281.79999999999995" stroke="#8a8a8a" stroke-width="0.9" fill="none"/>
<text x="295.80" y="275.60" font-size="6.3" fill="#333" text-anchor="middle" textLength="37.00" lengthAdjust="spacingAndGlyphs">p.adj = 0.066</text>
<path d="M295.4,294.4 V290.0 H332.5 V294.4" stroke="#8a8a8a" stroke-width="0.9" fill="none"/>
<text x="314.00" y="288.10" font-size="6.3" fill="#333" text-anchor="middle" textLength="37.00" lengthAdjust="spacingAndGlyphs">p.adj = 0.066</text>
<path d="M259.2,306.4 V302.0 H295.4 V306.4" stroke="#8a8a8a" stroke-width="0.9" fill="none"/>
<text x="277.30" y="300.50" font-size="6.3" fill="#333" text-anchor="middle" textLength="33.40" lengthAdjust="spacingAndGlyphs">p.adj = 0.53</text>
<text x="257.5" y="449.2" font-size="8.6" fill="#52261a" stroke="#52261a" stroke-width="0.3" text-anchor="middle" textLength="21.8" lengthAdjust="spacingAndGlyphs" transform="rotate(-19 257.5 446.6)">tumor</text>
<text x="296.0" y="449.2" font-size="8.6" fill="#52261a" stroke="#52261a" stroke-width="0.3" text-anchor="middle" textLength="21.8" lengthAdjust="spacingAndGlyphs" transform="rotate(-19 296.0 446.6)">tumor</text>
<text x="332.9" y="448.4" font-size="8.6" fill="#52261a" stroke="#52261a" stroke-width="0.3" text-anchor="middle" textLength="15.5" lengthAdjust="spacingAndGlyphs" transform="rotate(-19 332.9 445.4)">TLS</text>
<line x1="247.7" y1="454.3" x2="271.7" y2="454.3" stroke="#111" stroke-width="1.2"/>
<line x1="280.5" y1="454.3" x2="342.8" y2="454.3" stroke="#111" stroke-width="1.2"/>
<text x="260.20" y="465.60" font-size="8.3" fill="#2a2a2a" font-weight="bold" text-anchor="middle" textLength="16.00" lengthAdjust="spacingAndGlyphs">PBS</text>
<text x="311.60" y="465.60" font-size="8.3" fill="#2a2a2a" font-weight="bold" text-anchor="middle" textLength="64.00" lengthAdjust="spacingAndGlyphs">Cisplatin+CR108</text>
<path d="M391.5,255.6 V433.4 H514.7" stroke="#555050" stroke-width="1" fill="none"/>
<line x1="389.5" y1="296.2" x2="391.5" y2="296.2" stroke="#555050" stroke-width="1"/>
<text x="387.00" y="299.10" font-size="8.3" fill="#4d3a34" font-weight="bold" text-anchor="end">0.6</text>
<line x1="389.5" y1="339.0" x2="391.5" y2="339.0" stroke="#555050" stroke-width="1"/>
<text x="387.00" y="341.90" font-size="8.3" fill="#4d3a34" font-weight="bold" text-anchor="end">0.4</text>
<line x1="389.5" y1="382.0" x2="391.5" y2="382.0" stroke="#555050" stroke-width="1"/>
<text x="387.00" y="384.90" font-size="8.3" fill="#4d3a34" font-weight="bold" text-anchor="end">0.2</text>
<line x1="389.5" y1="424.7" x2="391.5" y2="424.7" stroke="#555050" stroke-width="1"/>
<text x="387.00" y="427.60" font-size="8.3" fill="#4d3a34" font-weight="bold" text-anchor="end">0.0</text>
<line x1="414.5" y1="433.4" x2="414.5" y2="435.4" stroke="#555050" stroke-width="1"/>
<line x1="453.3" y1="433.4" x2="453.3" y2="435.4" stroke="#555050" stroke-width="1"/>
<line x1="491.4" y1="433.4" x2="491.4" y2="435.4" stroke="#555050" stroke-width="1"/>
<text x="368.40" y="351.70" font-size="13.2" font-weight="bold" fill="#45200e" text-anchor="middle" textLength="119.8" lengthAdjust="spacingAndGlyphs" transform="rotate(-90 368.40 351.70)">Ratio of&#160; Inhibitory</text>
<line x1="415.0" y1="300.8" x2="415.0" y2="302.4" stroke="#F46C68" stroke-width="0.75"/>
<line x1="415.0" y1="325.5" x2="415.0" y2="347.3" stroke="#F46C68" stroke-width="0.75"/>
<rect x="400.5" y="302.4" width="29.0" height="23.1" fill="#fff" stroke="#F46C68" stroke-width="0.75"/>
<line x1="400.5" y1="303.6" x2="429.5" y2="303.6" stroke="#F46C68" stroke-width="1.2"/>
<circle cx="414.9" cy="300.8" r="1.3" fill="#F46C68"/>
<circle cx="413.5" cy="304.0" r="1.3" fill="#F46C68"/>
<circle cx="414.9" cy="347.3" r="1.3" fill="#F46C68"/>
<line x1="453.1" y1="317.0" x2="453.1" y2="318.0" stroke="#22B040" stroke-width="0.75"/>
<line x1="453.1" y1="331.1" x2="453.1" y2="343.0" stroke="#22B040" stroke-width="0.75"/>
<rect x="438.3" y="318.0" width="29.7" height="13.1" fill="#fff" stroke="#22B040" stroke-width="0.75"/>
<line x1="438.3" y1="318.6" x2="468.0" y2="318.6" stroke="#22B040" stroke-width="1.2"/>
<path d="M453,316.6 L454.6,319.3 L451.4,319.3 Z" fill="#22B040"/>
<path d="M459.8,314.7 L461.40000000000003,317.4 L458.2,317.4 Z" fill="#22B040"/>
<path d="M457,341.3 L458.6,344.0 L455.4,344.0 Z" fill="#22B040"/>
<line x1="491.1" y1="419.0" x2="491.1" y2="419.5" stroke="#5E8BD8" stroke-width="0.75"/>
<line x1="491.1" y1="420.8" x2="491.1" y2="421.5" stroke="#5E8BD8" stroke-width="0.75"/>
<rect x="476.3" y="419.5" width="29.7" height="1.3" fill="#fff" stroke="#5E8BD8" stroke-width="0.75"/>
<line x1="476.3" y1="420.0" x2="506.0" y2="420.0" stroke="#5E8BD8" stroke-width="1.2"/>
<rect x="476.8" y="417.8" width="2.4" height="2.4" fill="#5E8BD8"/>
<rect x="490.8" y="418.8" width="2.4" height="2.4" fill="#5E8BD8"/>
<rect x="479.8" y="420.8" width="2.4" height="2.4" fill="#5E8BD8"/>
<path d="M414.6,280.9 V276.5 H492.0 V280.9" stroke="#8a8a8a" stroke-width="0.9" fill="none"/>
<text x="453.30" y="274.70" font-size="6.3" fill="#333" text-anchor="middle" textLength="33.40" lengthAdjust="spacingAndGlyphs">p.adj = 0.03</text>
<path d="M453.6,293.4 V289.0 H492.0 V293.4" stroke="#8a8a8a" stroke-width="0.9" fill="none"/>
<text x="472.80" y="287.20" font-size="6.3" fill="#333" text-anchor="middle" textLength="37.00" lengthAdjust="spacingAndGlyphs">p.adj = 0.021</text>
<path d="M414.6,305.2 V300.8 H453.6 V305.2" stroke="#8a8a8a" stroke-width="0.9" fill="none"/>
<text x="434.10" y="299.60" font-size="6.3" fill="#333" text-anchor="middle" textLength="33.40" lengthAdjust="spacingAndGlyphs">p.adj = 0.63</text>
<text x="416.0" y="449.6" font-size="8.6" fill="#52261a" stroke="#52261a" stroke-width="0.3" text-anchor="middle" textLength="21.8" lengthAdjust="spacingAndGlyphs" transform="rotate(-19 416.0 447.0)">tumor</text>
<text x="450.2" y="449.6" font-size="8.6" fill="#52261a" stroke="#52261a" stroke-width="0.3" text-anchor="middle" textLength="21.8" lengthAdjust="spacingAndGlyphs" transform="rotate(-19 450.2 447.0)">tumor</text>
<text x="487.0" y="448.8" font-size="8.6" fill="#52261a" stroke="#52261a" stroke-width="0.3" text-anchor="middle" textLength="15.5" lengthAdjust="spacingAndGlyphs" transform="rotate(-19 487.0 445.8)">TLS</text>
<line x1="406.1" y1="455.0" x2="428.0" y2="455.0" stroke="#111" stroke-width="1.2"/>
<line x1="440.5" y1="455.0" x2="500.3" y2="455.0" stroke="#111" stroke-width="1.2"/>
<text x="417.55" y="466.00" font-size="8.3" fill="#2a2a2a" font-weight="bold" text-anchor="middle" textLength="16.00" lengthAdjust="spacingAndGlyphs">PBS</text>
<text x="469.40" y="466.00" font-size="8.3" fill="#2a2a2a" font-weight="bold" text-anchor="middle" textLength="64.00" lengthAdjust="spacingAndGlyphs">Cisplatin+CR108</text>
<path d="M553.0,261.1 V436.2 H674.0" stroke="#555050" stroke-width="1" fill="none"/>
<line x1="551.0" y1="267.8" x2="553.0" y2="267.8" stroke="#555050" stroke-width="1"/>
<text x="548.80" y="270.70" font-size="8.3" fill="#4d3a34" font-weight="bold" text-anchor="end">0.3</text>
<line x1="551.0" y1="320.6" x2="553.0" y2="320.6" stroke="#555050" stroke-width="1"/>
<text x="548.80" y="323.50" font-size="8.3" fill="#4d3a34" font-weight="bold" text-anchor="end">0.2</text>
<line x1="551.0" y1="373.8" x2="553.0" y2="373.8" stroke="#555050" stroke-width="1"/>
<text x="548.80" y="376.70" font-size="8.3" fill="#4d3a34" font-weight="bold" text-anchor="end">0.1</text>
<line x1="551.0" y1="426.9" x2="553.0" y2="426.9" stroke="#555050" stroke-width="1"/>
<text x="548.80" y="429.80" font-size="8.3" fill="#4d3a34" font-weight="bold" text-anchor="end">0.0</text>
<line x1="575.2" y1="436.2" x2="575.2" y2="438.2" stroke="#555050" stroke-width="1"/>
<line x1="613.6" y1="436.2" x2="613.6" y2="438.2" stroke="#555050" stroke-width="1"/>
<line x1="651.3" y1="436.2" x2="651.3" y2="438.2" stroke="#555050" stroke-width="1"/>
<text x="530.70" y="350.95" font-size="13.2" font-weight="bold" fill="#45200e" text-anchor="middle" textLength="84.5" lengthAdjust="spacingAndGlyphs" transform="rotate(-90 530.70 350.95)">Ratio of&#160; Treg</text>
<line x1="575.5" y1="305.5" x2="575.5" y2="316.0" stroke="#F46C68" stroke-width="0.75"/>
<line x1="575.5" y1="349.2" x2="575.5" y2="370.0" stroke="#F46C68" stroke-width="0.75"/>
<rect x="561.2" y="316.0" width="28.7" height="33.2" fill="#fff" stroke="#F46C68" stroke-width="0.75"/>
<line x1="561.2" y1="327.4" x2="589.9" y2="327.4" stroke="#F46C68" stroke-width="1.2"/>
<circle cx="571.1" cy="305.5" r="1.3" fill="#F46C68"/>
<circle cx="565.5" cy="327.4" r="1.3" fill="#F46C68"/>
<circle cx="574.9" cy="370.1" r="1.3" fill="#F46C68"/>
<line x1="613.3" y1="337.3" x2="613.3" y2="339.5" stroke="#22B040" stroke-width="0.75"/>
<line x1="613.3" y1="346.0" x2="613.3" y2="349.2" stroke="#22B040" stroke-width="0.75"/>
<rect x="598.6" y="339.5" width="29.4" height="6.5" fill="#fff" stroke="#22B040" stroke-width="0.75"/>
<line x1="598.6" y1="342.6" x2="628.0" y2="342.6" stroke="#22B040" stroke-width="1.2"/>
<path d="M598.6,348.1 L600.2,350.8 L597.0,350.8 Z" fill="#22B040"/>
<path d="M621.0,334.7 L622.6,337.4 L619.4,337.4 Z" fill="#22B040"/>
<path d="M610.4,340.0 L612.0,342.7 L608.8,342.7 Z" fill="#22B040"/>
<line x1="651.5" y1="377.9" x2="651.5" y2="380.4" stroke="#5E8BD8" stroke-width="0.75"/>
<line x1="651.5" y1="391.0" x2="651.5" y2="399.1" stroke="#5E8BD8" stroke-width="0.75"/>
<rect x="637.3" y="380.4" width="28.4" height="10.6" fill="#fff" stroke="#5E8BD8" stroke-width="0.75"/>
<line x1="637.3" y1="382.6" x2="665.7" y2="382.6" stroke="#5E8BD8" stroke-width="1.2"/>
<rect x="643.1999999999999" y="397.90000000000003" width="2.4" height="2.4" fill="#5E8BD8"/>
<rect x="658.8" y="376.7" width="2.4" height="2.4" fill="#5E8BD8"/>
<rect x="657.9" y="381.40000000000003" width="2.4" height="2.4" fill="#5E8BD8"/>
<path d="M575.2,285.0 V280.6 H651.6 V285.0" stroke="#8a8a8a" stroke-width="0.9" fill="none"/>
<text x="614.00" y="279.60" font-size="6.3" fill="#333" text-anchor="middle" textLength="33.40" lengthAdjust="spacingAndGlyphs">p.adj = 0.15</text>
<path d="M613.6,297.4 V293.0 H651.6 V297.4" stroke="#8a8a8a" stroke-width="0.9" fill="none"/>
<text x="632.60" y="291.80" font-size="6.3" fill="#333" text-anchor="middle" textLength="37.00" lengthAdjust="spacingAndGlyphs">p.adj = 0.024</text>
<path d="M575.2,309.59999999999997 V305.2 H613.6 V309.59999999999997" stroke="#8a8a8a" stroke-width="0.9" fill="none"/>
<text x="594.40" y="303.70" font-size="6.3" fill="#333" text-anchor="middle" textLength="29.50" lengthAdjust="spacingAndGlyphs">p.adj = 0.7</text>
<text x="576.0" y="449.6" font-size="8.6" fill="#52261a" stroke="#52261a" stroke-width="0.3" text-anchor="middle" textLength="21.8" lengthAdjust="spacingAndGlyphs" transform="rotate(-19 576.0 447.0)">tumor</text>
<text x="610.2" y="450.1" font-size="8.6" fill="#52261a" stroke="#52261a" stroke-width="0.3" text-anchor="middle" textLength="21.8" lengthAdjust="spacingAndGlyphs" transform="rotate(-19 610.2 447.5)">tumor</text>
<text x="646.1" y="449.6" font-size="8.6" fill="#52261a" stroke="#52261a" stroke-width="0.3" text-anchor="middle" textLength="15.5" lengthAdjust="spacingAndGlyphs" transform="rotate(-19 646.1 446.6)">TLS</text>
<line x1="565.0" y1="455.3" x2="587.4" y2="455.3" stroke="#111" stroke-width="1.2"/>
<line x1="599.8" y1="455.3" x2="659.0" y2="455.3" stroke="#111" stroke-width="1.2"/>
<text x="576.70" y="466.30" font-size="8.3" fill="#2a2a2a" font-weight="bold" text-anchor="middle" textLength="16.00" lengthAdjust="spacingAndGlyphs">PBS</text>
<text x="628.80" y="466.30" font-size="8.3" fill="#2a2a2a" font-weight="bold" text-anchor="middle" textLength="64.00" lengthAdjust="spacingAndGlyphs">Cisplatin+CR108</text>
<text x="1.00" y="493.00" font-size="16" fill="#111" font-weight="bold">d</text>
<text x="106.20" y="505.50" font-size="10.8" fill="#151515" textLength="104.40" lengthAdjust="spacingAndGlyphs">velocity pseudotime</text>
<path d="M148.2,526.4 C150.0,524.5 152.6,522.5 156.3,521.2 C160.1,519.9 164.9,518.8 170.7,518.4 C176.5,518.0 184.3,518.5 191.1,518.9 C197.9,519.3 205.7,520.2 211.5,520.9 C217.3,521.6 221.7,522.2 225.8,523.1 C229.9,524.0 233.0,525.2 236.1,526.1 C239.2,527.0 241.1,527.1 244.2,528.6 C247.2,530.1 251.0,533.3 254.4,535.3 C257.8,537.3 261.6,538.6 264.7,540.5 C267.8,542.4 271.2,544.9 272.8,546.6 C274.4,548.3 274.8,549.1 274.2,550.9 C273.6,552.7 271.8,555.1 269.2,557.2 C266.6,559.3 263.0,561.2 258.5,563.3 C254.0,565.3 248.3,567.8 242.2,569.5 C236.1,571.2 228.5,572.6 221.7,573.6 C214.9,574.6 208.1,574.9 201.3,575.3 C194.5,575.6 186.7,575.8 180.9,575.7 C175.1,575.6 170.3,575.6 166.6,574.6 C162.8,573.6 160.4,571.7 158.4,569.5 C156.4,567.3 156.0,563.7 154.3,561.3 C152.6,558.9 149.9,556.9 148.2,555.2 C146.5,553.5 145.1,553.0 144.1,550.9 C143.1,548.8 142.1,545.8 142.3,542.7 C142.6,539.6 144.6,535.2 145.6,532.5 C146.6,529.8 146.4,528.3 148.2,526.4Z" fill="#4b2d94" fill-opacity="1" filter="url(#sp)"/>
<path d="M149,527 C156,520 172,518 192,518.6 C212,520 228,522.5 244,528.5 C240,533 236,535 228,536 C210,538 196,540 180,541 C166,542 155,540 148,536 Z" fill="#341a7a" fill-opacity="0.85" filter="url(#sp)"/>
<path d="M170,520 C185,518.2 203,518.6 217,520.5 C227,522 236,525 242,528 C230,528.5 212,526 195,524.5 C183,523.5 174,522.5 170,520 Z" fill="#140a30" fill-opacity="0.6" filter="url(#sp)"/>
<path d="M196,541.5 C210,539 225,536 238,534.2 C244,533.4 248,533.6 250,534.5 C240,537 225,540 210,543 C203,544 198,544 196,541.5 Z" fill="#ffffff" fill-opacity="0.5" filter="url(#sp2)"/>
<path d="M160,546 C172,544 185,543 196,542 L196,545.5 C185,547 172,549 160,550 Z" fill="#ffffff" fill-opacity="0.35" filter="url(#sp2)"/>
<circle cx="152" cy="528" r="0.7" fill="#b03a30"/>
<circle cx="158" cy="531" r="0.7" fill="#b03a30"/>
<circle cx="164" cy="527" r="0.7" fill="#b03a30"/>
<circle cx="170" cy="533" r="0.7" fill="#b03a30"/>
<circle cx="176" cy="531" r="0.7" fill="#b03a30"/>
<circle cx="182" cy="526" r="0.7" fill="#b03a30"/>
<circle cx="160" cy="540" r="0.7" fill="#b03a30"/>
<circle cx="168" cy="541" r="0.7" fill="#b03a30"/>
<circle cx="186" cy="538" r="0.7" fill="#b03a30"/>
<circle cx="196" cy="530" r="0.7" fill="#b03a30"/>
<circle cx="205" cy="525" r="0.7" fill="#b03a30"/>
<circle cx="212" cy="530" r="0.7" fill="#b03a30"/>
<circle cx="150" cy="536" r="0.7" fill="#b03a30"/>
<circle cx="156" cy="545" r="0.7" fill="#b03a30"/>
<circle cx="174" cy="545" r="0.7" fill="#b03a30"/>
<path d="M98.0,538.0 C99.3,535.3 106.0,535.9 110.0,535.5 C114.0,535.1 117.8,535.7 122.0,535.5 C126.2,535.3 130.7,535.4 135.0,534.5 C139.3,533.6 145.3,527.1 148.0,530.0 C150.7,532.9 151.3,547.0 151.0,552.0 C150.7,557.0 148.5,559.3 146.0,560.0 C143.5,560.7 139.7,557.2 136.0,556.0 C132.3,554.8 128.0,553.5 124.0,553.0 C120.0,552.5 115.7,553.2 112.0,553.0 C108.3,552.8 104.3,554.0 102.0,551.5 C99.7,549.0 96.7,540.7 98.0,538.0Z" fill="#5e2e90" fill-opacity="0.62" filter="url(#sp)"/>
<ellipse cx="148" cy="548" rx="6" ry="13" fill="#4b2d94" fill-opacity="0.6" filter="url(#sp)"/>
<linearGradient id="gup" x1="55" y1="0" x2="122" y2="0" gradientUnits="userSpaceOnUse"><stop offset="0" stop-color="#c03a0c"/><stop offset="0.35" stop-color="#d85a10"/><stop offset="0.6" stop-color="#c05030"/><stop offset="0.8" stop-color="#7a3080"/><stop offset="1" stop-color="#5a2a90"/></linearGradient>
<path d="M55.0,529.5 C56.2,528.6 60.4,528.1 63.8,528.2 C67.2,528.3 71.8,529.3 75.5,530.0 C79.2,530.7 82.3,531.6 85.7,532.3 C89.1,533.0 92.2,533.6 95.9,534.3 C99.6,535.0 103.6,535.8 107.6,536.7 C111.6,537.6 117.8,537.6 120.0,539.7 C122.2,541.8 122.6,548.0 121.0,549.5 C119.4,551.0 114.2,549.0 110.5,548.5 C106.8,548.0 102.7,547.1 98.8,546.3 C94.9,545.5 91.1,544.8 87.2,543.8 C83.3,542.8 79.4,541.6 75.5,540.5 C71.6,539.4 67.0,538.1 63.8,537.0 C60.6,535.9 58.0,535.0 56.5,533.8 C55.0,532.5 53.8,530.4 55.0,529.5Z" fill="url(#gup)" fill-opacity="0.95" filter="url(#sp)"/>
<path d="M82.0,551.0 C84.3,550.4 90.7,551.3 95.0,552.5 C99.3,553.7 103.5,555.9 108.0,558.0 C112.5,560.1 117.3,562.8 122.0,565.0 C126.7,567.2 131.8,569.0 136.0,571.0 C140.2,573.0 145.3,575.3 147.0,577.0 C148.7,578.7 148.2,581.0 146.0,581.0 C143.8,581.0 138.3,578.5 134.0,577.0 C129.7,575.5 124.7,573.8 120.0,572.0 C115.3,570.2 110.7,568.0 106.0,566.0 C101.3,564.0 96.2,561.7 92.0,560.0 C87.8,558.3 82.7,557.5 81.0,556.0 C79.3,554.5 79.7,551.6 82.0,551.0Z" fill="#b83010" fill-opacity="0.72" filter="url(#sp)"/>
<path d="M62,545 C70,543 82,543 92,546 C96,552 94,560 86,562 C76,563 66,561 60,558 Z" fill="#f0b41a" fill-opacity="0.85" filter="url(#sp)"/>
<path d="M38,562.2 C48,561.5 58,561.8 70,562.6 L70,564.2 C58,563.6 48,563.6 38,564 Z" fill="#a81808" fill-opacity="0.7" filter="url(#sp)"/>
<path d="M25.8,574.7 C26.8,573.8 30.7,572.2 34.6,571.1 C38.5,570.0 45.3,568.8 49.2,568.0 C53.1,567.2 55.9,566.3 58.0,566.5 C60.1,566.7 61.5,567.8 62.0,569.0 C62.5,570.2 62.1,572.4 60.9,573.6 C59.7,574.8 58.2,575.9 55.0,576.4 C51.8,576.9 46.3,576.6 41.9,576.6 C37.5,576.6 31.5,576.9 28.8,576.6 C26.1,576.3 24.8,575.6 25.8,574.7Z" fill="#e06410" fill-opacity="1" filter="url(#sp)"/>
<path d="M72,566 C78,563.5 88,563 97,565 C100,568 99,573 95,574.5 C86,575 78,575 73,573 Z" fill="#f0a81a" fill-opacity="0.9" filter="url(#sp)"/>
<path d="M58,566 C64,564.5 70,565 74,566 L74,572 C68,573 63,573 59,572 Z" fill="#d04a10" fill-opacity="0.6" filter="url(#sp)"/>
<linearGradient id="gy" x1="25" y1="0" x2="85" y2="0" gradientUnits="userSpaceOnUse"><stop offset="0" stop-color="#f2f020"/><stop offset="0.6" stop-color="#f2e01c"/><stop offset="1" stop-color="#f0b81a"/></linearGradient>
<path d="M25.8,550.7 C26.9,549.9 29.0,549.0 31.7,548.5 C34.4,548.0 38.2,547.8 41.9,547.5 C45.5,547.2 50.0,547.0 53.6,546.5 C57.2,546.0 60.6,545.0 63.8,544.6 C67.0,544.2 70.1,544.0 72.6,544.1 C75.1,544.2 77.8,544.0 79.0,545.0 C80.2,546.0 80.3,548.2 80.0,550.0 C79.7,551.8 78.7,554.6 77.0,556.0 C75.3,557.4 72.2,557.9 70.0,558.5 C67.8,559.1 66.8,558.9 63.8,559.4 C60.8,559.9 55.8,561.1 52.1,561.4 C48.5,561.6 45.3,561.2 41.9,560.9 C38.5,560.6 34.2,560.1 31.7,559.4 C29.1,558.7 27.7,557.5 26.6,556.5 C25.5,555.5 25.2,554.6 25.1,553.6 C25.0,552.6 24.7,551.6 25.8,550.7Z" fill="url(#gy)" fill-opacity="1" filter="url(#sp)"/>
<circle cx="86.7" cy="560.2" r="0.6" fill="#6a2a90"/>
<circle cx="86.6" cy="573.5" r="0.6" fill="#e07010"/>
<circle cx="67.9" cy="558.0" r="0.6" fill="#e8a018"/>
<circle cx="110.5" cy="539.2" r="0.6" fill="#b02010"/>
<circle cx="64.9" cy="559.2" r="0.6" fill="#d04a10"/>
<circle cx="96.7" cy="552.8" r="0.6" fill="#6a2a90"/>
<circle cx="100.8" cy="562.7" r="0.6" fill="#e07010"/>
<circle cx="98.6" cy="572.4" r="0.6" fill="#d04a10"/>
<circle cx="59.2" cy="543.6" r="0.6" fill="#e07010"/>
<circle cx="97.0" cy="570.0" r="0.6" fill="#b02010"/>
<circle cx="85.8" cy="572.9" r="0.6" fill="#e8a018"/>
<circle cx="71.4" cy="548.2" r="0.6" fill="#d04a10"/>
<circle cx="101.4" cy="555.6" r="0.6" fill="#b02010"/>
<circle cx="83.5" cy="559.8" r="0.6" fill="#d04a10"/>
<circle cx="104.5" cy="549.2" r="0.6" fill="#e07010"/>
<circle cx="90.9" cy="536.3" r="0.6" fill="#e8a018"/>
<circle cx="108.6" cy="553.0" r="0.6" fill="#b02010"/>
<circle cx="82.1" cy="578.1" r="0.6" fill="#d04a10"/>
<circle cx="69.9" cy="576.7" r="0.6" fill="#d04a10"/>
<circle cx="87.9" cy="579.1" r="0.6" fill="#6a2a90"/>
<circle cx="84.4" cy="560.5" r="0.6" fill="#e07010"/>
<circle cx="109.5" cy="547.1" r="0.6" fill="#d04a10"/>
<circle cx="76.8" cy="535.7" r="0.6" fill="#6a2a90"/>
<circle cx="108.1" cy="540.3" r="0.6" fill="#e07010"/>
<circle cx="104.5" cy="535.5" r="0.6" fill="#6a2a90"/>
<circle cx="110.8" cy="543.0" r="0.6" fill="#e8a018"/>
<circle cx="68.2" cy="557.9" r="0.6" fill="#e07010"/>
<circle cx="84.3" cy="552.3" r="0.6" fill="#6a2a90"/>
<circle cx="84.5" cy="544.6" r="0.6" fill="#b02010"/>
<circle cx="115.5" cy="578.9" r="0.6" fill="#e8a018"/>
<circle cx="76.3" cy="574.8" r="0.6" fill="#e07010"/>
<circle cx="68.1" cy="579.8" r="0.6" fill="#e8a018"/>
<circle cx="99.9" cy="539.5" r="0.6" fill="#e07010"/>
<circle cx="69.9" cy="546.6" r="0.6" fill="#e8a018"/>
<circle cx="78.0" cy="548.3" r="0.6" fill="#d04a10"/>
<circle cx="60.2" cy="544.4" r="0.6" fill="#e07010"/>
<circle cx="56.1" cy="551.6" r="0.6" fill="#e8a018"/>
<circle cx="86.7" cy="578.2" r="0.6" fill="#6a2a90"/>
<circle cx="113.3" cy="541.1" r="0.6" fill="#6a2a90"/>
<circle cx="67.8" cy="541.9" r="0.6" fill="#e07010"/>
<circle cx="112.2" cy="546.2" r="0.6" fill="#e07010"/>
<circle cx="66.1" cy="563.3" r="0.6" fill="#e8a018"/>
<circle cx="68.8" cy="577.8" r="0.6" fill="#6a2a90"/>
<circle cx="97.2" cy="554.0" r="0.6" fill="#d04a10"/>
<circle cx="62.6" cy="558.1" r="0.6" fill="#b02010"/>
<circle cx="71.7" cy="566.7" r="0.6" fill="#b02010"/>
<circle cx="84.5" cy="575.7" r="0.6" fill="#6a2a90"/>
<circle cx="75.5" cy="542.9" r="0.6" fill="#d04a10"/>
<circle cx="63.8" cy="556.6" r="0.6" fill="#e8a018"/>
<circle cx="98.0" cy="547.6" r="0.6" fill="#e07010"/>
<circle cx="107.4" cy="538.1" r="0.6" fill="#6a2a90"/>
<circle cx="86.2" cy="537.7" r="0.6" fill="#e07010"/>
<circle cx="74.7" cy="558.9" r="0.6" fill="#e07010"/>
<circle cx="61.5" cy="541.2" r="0.6" fill="#6a2a90"/>
<circle cx="123.6" cy="564.6" r="0.6" fill="#e8a018"/>
<circle cx="95.9" cy="541.3" r="0.6" fill="#d04a10"/>
<circle cx="119.7" cy="556.4" r="0.6" fill="#b02010"/>
<circle cx="104.1" cy="578.3" r="0.6" fill="#d04a10"/>
<circle cx="96.9" cy="538.4" r="0.6" fill="#d04a10"/>
<circle cx="106.1" cy="549.4" r="0.6" fill="#d04a10"/>
<circle cx="60.3" cy="559.6" r="0.6" fill="#d04a10"/>
<circle cx="118.0" cy="568.2" r="0.6" fill="#e07010"/>
<circle cx="110.5" cy="576.2" r="0.6" fill="#b02010"/>
<circle cx="60.9" cy="556.3" r="0.6" fill="#d04a10"/>
<circle cx="116.0" cy="553.8" r="0.6" fill="#d04a10"/>
<circle cx="115.4" cy="560.8" r="0.6" fill="#e8a018"/>
<circle cx="101.4" cy="552.1" r="0.6" fill="#d04a10"/>
<circle cx="97.6" cy="538.6" r="0.6" fill="#d04a10"/>
<circle cx="124.5" cy="574.6" r="0.6" fill="#b02010"/>
<circle cx="82.2" cy="568.1" r="0.6" fill="#e8a018"/>
<path d="M154,582 C160,581 168,583 177,586 L176,589 C168,589 160,588 155,586 Z" fill="#9a1008" filter="url(#sp2)"/>
<circle cx="91.5" cy="599" r="0.8" fill="#e06010"/>
<circle cx="87.2" cy="606.3" r="0.8" fill="#e06010"/>
<circle cx="226.8" cy="595.7" r="0.8" fill="#5a3aa0"/>
<circle cx="228.8" cy="625.6" r="0.8" fill="#c02020"/>
<circle cx="280.2" cy="660.4" r="0.8" fill="#e06010"/>
<circle cx="290" cy="658.3" r="0.8" fill="#e06010"/>
<circle cx="288.5" cy="657.5" r="0.8" fill="#e06010"/>
<circle cx="280.7" cy="688.4" r="0.8" fill="#f0e020"/>
<circle cx="169" cy="594.2" r="0.8" fill="#5a3aa0"/>
<circle cx="187.4" cy="591" r="0.8" fill="#5a3aa0"/>
<circle cx="196.6" cy="580" r="0.8" fill="#5a3aa0"/>
<circle cx="188.5" cy="590" r="0.8" fill="#5a3aa0"/>
<rect x="298.8" y="640.5" width="6" height="56.6" fill="url(#cbar)" stroke="#333" stroke-width="0.8"/>
<path d="M304.8,640.8 H307.6 M304.8,696.8 H307.6" stroke="#333" stroke-width="0.8"/>
<text x="311.00" y="644.70" font-size="10.8" fill="#222">1</text>
<text x="310.90" y="700.60" font-size="10.8" fill="#222" textLength="6.20" lengthAdjust="spacingAndGlyphs">0</text>
<text x="325.40" y="489.90" font-size="16" fill="#111" font-weight="bold">e</text>
<text x="409.90" y="507.20" font-size="9.4" fill="#151515" textLength="106.00" lengthAdjust="spacingAndGlyphs">Final_anno_sample_count</text>
<rect x="338.5" y="511.2" width="249.1" height="185.4" fill="none" stroke="#555" stroke-width="1"/>
<text x="334.6" y="604.0" font-size="8.4" fill="#151515" text-anchor="middle" textLength="25" lengthAdjust="spacingAndGlyphs" transform="rotate(-90 334.6 604.0)">UMAP2</text>
<text x="450.50" y="705.30" font-size="8.2" fill="#151515" textLength="24.00" lengthAdjust="spacingAndGlyphs">UMAP1</text>
<path d="M376.1,531.1 C378.0,530.5 384.2,531.3 389.3,532.1 C394.4,532.9 401.0,534.6 406.4,535.9 C411.8,537.2 418.4,538.4 421.6,539.7 C424.8,541.0 425.7,542.4 425.4,543.5 C425.1,544.6 422.5,545.5 419.7,546.3 C416.9,547.1 412.1,548.7 408.3,548.2 C404.5,547.7 400.7,545.1 396.9,543.5 C393.1,541.9 388.6,540.0 385.5,538.7 C382.4,537.4 379.6,537.2 378.0,535.9 C376.4,534.6 374.2,531.7 376.1,531.1Z" fill="#9a6cc8" fill-opacity="0.9" filter="url(#sp)"/>
<path d="M350.4,575.7 C350.4,574.8 355.4,573.2 359.0,571.9 C362.6,570.6 369.1,569.2 372.3,568.1 C375.5,567.0 375.2,566.1 378.0,565.3 C380.8,564.5 384.9,563.9 389.3,563.4 C393.7,562.9 400.1,562.2 404.5,562.4 C408.9,562.5 412.7,563.0 415.9,564.3 C419.1,565.6 422.6,568.1 423.5,570.0 C424.4,571.9 423.5,574.4 421.6,575.7 C419.7,577.0 416.2,577.3 412.1,577.6 C408.0,577.9 401.6,577.6 396.9,577.6 C392.2,577.6 387.8,577.6 383.7,577.6 C379.6,577.6 376.4,577.6 372.3,577.6 C368.2,577.6 362.6,577.9 359.0,577.6 C355.4,577.3 350.4,576.7 350.4,575.7Z" fill="#fb8a20" fill-opacity="0.6" filter="url(#sp)"/>
<path d="M350,575.5 C356,572 366,569.5 376,569 L378,577.5 C368,578 358,578 351,577.5 Z" fill="#fb8a20" filter="url(#sp)"/>
<ellipse cx="398" cy="570" rx="9" ry="4.5" fill="#fb8a20" fill-opacity="0.6" filter="url(#sp)"/>
<path d="M410,555 C422,562 436,571 454,582 L452,584.5 C434,575 420,567 407,559 Z" fill="#fb8a20" fill-opacity="0.45" filter="url(#sp)"/>
<path d="M349.5,553.0 C350.9,551.4 354.2,550.3 359.0,549.2 C363.8,548.1 372.6,546.8 378.0,546.3 C383.4,545.8 386.8,546.0 391.2,546.3 C395.6,546.6 401.0,547.2 404.5,548.2 C408.0,549.2 411.2,550.7 412.1,552.0 C413.1,553.3 412.7,554.8 410.2,555.8 C407.7,556.8 402.3,556.8 396.9,557.7 C391.5,558.7 383.4,560.2 378.0,561.5 C372.6,562.8 368.5,565.1 364.7,565.3 C360.9,565.4 357.6,563.5 355.2,562.4 C352.8,561.3 351.3,560.3 350.4,558.7 C349.4,557.1 348.1,554.6 349.5,553.0Z" fill="#2ca02c" fill-opacity="0.95" filter="url(#sp)"/>
<path d="M415.9,550.1 C416.5,548.8 419.1,546.5 421.6,545.4 C424.1,544.3 427.0,544.1 431.1,543.5 C435.2,542.9 441.9,541.9 446.3,541.6 C450.7,541.3 454.9,540.7 457.7,541.6 C460.5,542.5 462.8,545.1 463.4,547.3 C464.0,549.5 462.9,552.8 461.5,554.9 C460.1,557.0 458.5,559.4 455.0,560.0 C451.5,560.6 445.2,559.6 440.6,558.7 C436.0,557.9 431.1,555.9 427.3,554.9 C423.5,553.9 419.7,553.8 417.8,553.0 C415.9,552.2 415.3,551.4 415.9,550.1Z" fill="#2a78bc" fill-opacity="0.75" filter="url(#sp)"/>
<path d="M456.0,526.6 C457.4,523.9 459.9,523.1 463.2,522.0 C466.5,520.9 471.4,520.0 476.0,519.7 C480.6,519.4 485.7,519.8 490.6,520.2 C495.5,520.6 500.6,521.2 505.2,522.0 C509.8,522.8 513.7,523.6 518.0,524.8 C522.3,526.0 526.8,527.6 530.8,529.3 C534.8,531.0 538.1,533.0 541.7,534.8 C545.4,536.6 549.8,538.5 552.7,540.3 C555.6,542.1 557.6,544.1 559.0,545.8 C560.4,547.5 560.9,548.6 560.9,550.3 C560.9,552.0 560.4,554.0 559.0,555.8 C557.6,557.6 555.6,559.5 552.7,561.3 C549.8,563.1 546.0,565.0 541.7,566.7 C537.4,568.4 532.0,570.1 527.1,571.3 C522.2,572.5 517.7,573.4 512.5,574.0 C507.3,574.6 501.3,574.8 496.1,575.0 C490.9,575.2 486.1,575.2 481.5,575.0 C476.9,574.8 471.9,574.8 468.7,574.0 C465.5,573.2 463.4,571.9 462.3,570.4 C461.2,568.9 461.8,566.6 462.3,564.9 C462.8,563.2 465.8,563.5 465.1,560.4 C464.4,557.2 459.7,549.7 458.0,546.0 C456.3,542.3 455.3,541.2 455.0,538.0 C454.7,534.8 454.6,529.3 456.0,526.6Z" fill="#d62728" fill-opacity="0.92" filter="url(#sp)"/>
<path d="M500,540 C515,536 530,535 545,540 L545,543 C530,539 515,540 500,543 Z" fill="#ffffff" fill-opacity="0.35" filter="url(#sp)"/>
<path d="M456,545 C470,545 490,543 512,540 C508,547 492,553 468,559 C460,557 457,551 456,545 Z" fill="#ffffff" fill-opacity="0.55" filter="url(#sp)"/>
<path d="M458,547 C472,547 490,545 508,542 C502,548 488,552 468,557 C462,555 459,551 458,547 Z" fill="#8c84d4" fill-opacity="0.55" filter="url(#sp)"/>
<path d="M447,543 C455,541 462,543 466,548 C468,556 466,563 462,566 C456,565 451,560 449,554 Z" fill="#9a7ad0" fill-opacity="0.6" filter="url(#sp)"/>
<path d="M445,541 C450,540 456,541 458,546 L452,552 C448,550 445,546 445,541 Z" fill="#3a88c8" fill-opacity="0.6" filter="url(#sp)"/>
<path d="M459,583 C465,583 472,586 480,588 L479,590 C471,590 464,588 459,586 Z" fill="#d62728" filter="url(#sp2)"/>
<circle cx="406.1" cy="599.9" r="0.75" fill="#9b70c8"/>
<circle cx="402.1" cy="607.6" r="0.75" fill="#2f7dc0"/>
<circle cx="521" cy="596.9" r="0.75" fill="#d62728"/>
<circle cx="522.6" cy="626.9" r="0.75" fill="#fb8a1e"/>
<circle cx="566.4" cy="660.6" r="0.75" fill="#9b70c8"/>
<circle cx="574" cy="658.4" r="0.75" fill="#9b70c8"/>
<circle cx="576" cy="659.6" r="0.75" fill="#9b70c8"/>
<circle cx="567" cy="687.9" r="0.75" fill="#fb8a1e"/>
<circle cx="487.3" cy="592.9" r="0.75" fill="#d62728"/>
<circle cx="486" cy="591.5" r="0.75" fill="#d62728"/>
<circle cx="472" cy="595.3" r="0.75" fill="#fb8a1e"/>
<circle cx="483" cy="584" r="0.75" fill="#d62728"/>
<circle cx="496" cy="583" r="0.75" fill="#d62728"/>
<circle cx="497" cy="585" r="0.75" fill="#d62728"/>
<circle cx="600.4" cy="583.5" r="2.7" fill="#1f77b4"/>
<text x="613.00" y="586.30" font-size="8.3" fill="#151515" textLength="72.00" lengthAdjust="spacingAndGlyphs">Co-stimulatory (715)</text>
<circle cx="600.4" cy="593.7" r="2.7" fill="#ff7f0e"/>
<text x="613.00" y="596.50" font-size="8.3" fill="#151515" textLength="59.70" lengthAdjust="spacingAndGlyphs">Cytokines (1083)</text>
<circle cx="600.4" cy="603.9" r="2.7" fill="#2ca02c"/>
<text x="613.00" y="606.70" font-size="8.3" fill="#151515" textLength="58.50" lengthAdjust="spacingAndGlyphs">Inhibitory (1377)</text>
<circle cx="600.4" cy="614.1" r="2.7" fill="#d62728"/>
<text x="613.00" y="616.90" font-size="8.3" fill="#151515" textLength="49.60" lengthAdjust="spacingAndGlyphs">Naive (11565)</text>
<circle cx="600.4" cy="624.3" r="2.7" fill="#9467bd"/>
<text x="613.00" y="627.10" font-size="8.3" fill="#151515" textLength="39.50" lengthAdjust="spacingAndGlyphs">Treg (1323)</text>
</svg></body></html>
